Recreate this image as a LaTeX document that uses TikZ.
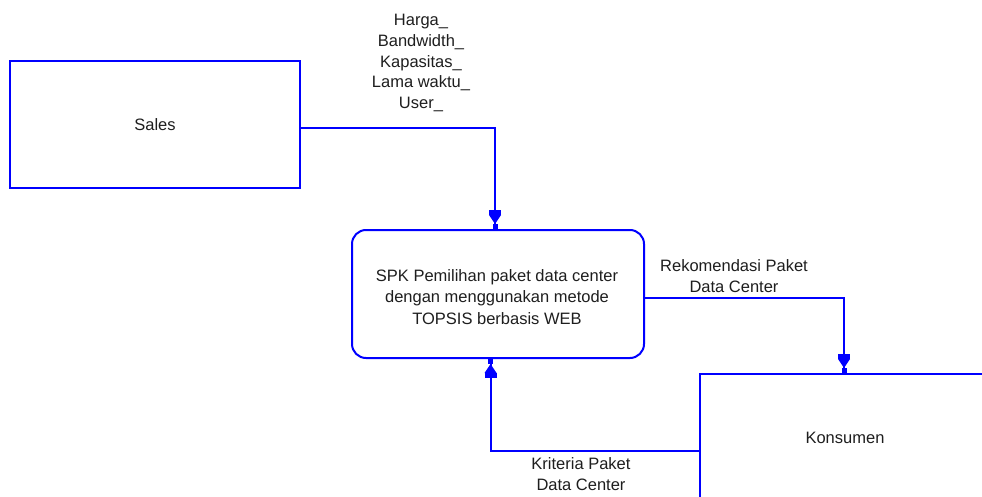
\documentclass[tikz,border=0pt]{standalone}
\usepackage{fontspec}
\setmainfont{Liberation Sans}
\usetikzlibrary{arrows.meta}
\definecolor{dfdblue}{RGB}{0,0,255}
\definecolor{dfdtext}{RGB}{30,30,30}
\tikzset{
  entity/.style={draw=dfdblue, line width=2pt, minimum width=290pt, minimum height=127pt,
    outer sep=0pt, inner sep=0pt, text=dfdtext},
  process/.style={draw=dfdblue, line width=2pt, rounded corners=14pt, minimum width=292pt,
    minimum height=128pt, outer sep=0pt, inner sep=0pt, align=center, text=dfdtext},
  flowlabel/.style={align=center, text=dfdtext, inner sep=0pt},
  flow/.style={draw=dfdblue, line width=2pt,
    -{Rectangle[length=5pt,width=12pt,sep=0pt,line width=0pt]
      Triangle[length=9pt,width=12pt,sep=0pt,line width=0pt]
      Rectangle[length=6pt,width=5pt,sep=0pt,line width=0pt]}},
}
\begin{document}
\begin{tikzpicture}[x=1pt, y=-1pt, font=\fontsize{16.5}{21.5}\selectfont]
  \useasboundingbox (0,0) rectangle (982,497);
  \clip (0,0) rectangle (982,497);

  % external entities and the process
  \node[entity] (sales) at (155,124.5) {Sales};
  \node[process] (spk) at (498,294) {};
  \node[flowlabel] (spktext) at (497,297) {SPK Pemilihan paket data center\\dengan menggunakan metode\\TOPSIS berbasis WEB};
  \node[entity] (kons) at (845,437.5) {Konsumen};

  % data flows
  \draw[flow] ([yshift=-3.5pt]sales.east) -| ([xshift=-3pt]spk.north);
  \draw[flow] ([yshift=-3.5pt]spk.east) -| ([xshift=-1pt]kons.north);
  \draw[flow] ([yshift=-13pt]kons.west) -| ([xshift=-7.5pt]spk.south);

  % flow labels
  \node[flowlabel, font=\fontsize{16.5}{20.8}\selectfont] (lblin) at (421,63)
    {Harga\_\\Bandwidth\_\\Kapasitas\_\\Lama waktu\_\\User\_};
  \node[flowlabel] (lblout) at (734,276) {Rekomendasi Paket\\Data Center};
  \node[flowlabel] (lblcrit) at (581,474) {Kriteria Paket\\Data Center};
\end{tikzpicture}
\end{document}
